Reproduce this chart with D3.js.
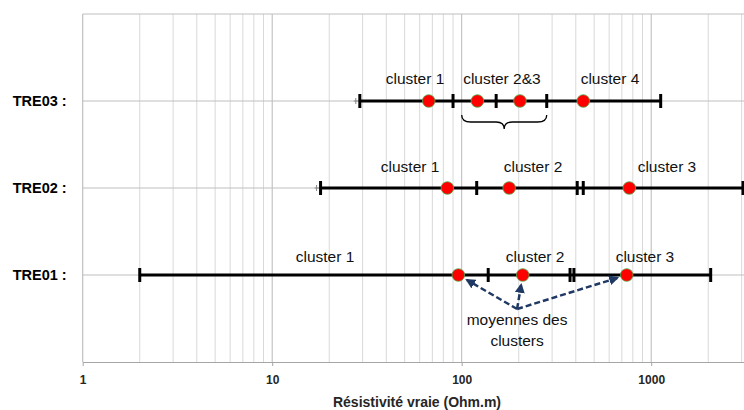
<!DOCTYPE html>
<html>
<head>
<meta charset="utf-8">
<script src="https://cdn.jsdelivr.net/npm/d3@7"></script>
<style>
  html, body { margin: 0; padding: 0; background: #fff; }
  svg { display: block; }
  text { font-family: "Liberation Sans", Arial, sans-serif; }
</style>
</head>
<body>
<svg id="chart" width="744" height="410"></svg>
<script>
// ---------- DATA ----------
const rows = ["TRE01 :", "TRE02 :", "TRE03 :"];
const rowIndex = [1, 2, 3];
// cluster ranges (Ohm.m) per row: [start, end]
const tre01Ranges = [[2, 138], [138, 373], [391, 2060]];
const tre02Ranges = [[18, 120], [120, 407], [438, 3050]];
const tre03Ranges = [[29, 90], [90, 152], [152, 281], [281, 1122]];
// cluster means
const tre01Means = [96, 210, 743];
const tre02Means = [84, 178, 766];
const tre03Means = [67, 121, 203, 438];
// cluster labels and their centre values
const tre01Labels = ["cluster 1", "cluster 2", "cluster 3"];
const tre01LabelAt = [19, 244, 927];
const tre02Labels = ["cluster 1", "cluster 2", "cluster 3"];
const tre02LabelAt = [53.4, 238, 1211];
const tre03Labels = ["cluster 1", "cluster 2&3", "cluster 4"];
const tre03LabelAt = [56.7, 163, 606];
// brace over clusters 2&3 of TRE03
const braceRange = [100, 281];
// annotation
const annotationText = ["moyennes des", "clusters"];
const annotationAt = 196;
// axis
const xTicks = [1, 10, 100, 1000];
const xTitle = "Résistivité vraie (Ohm.m)";

const series = [
  { row: 1, ranges: tre01Ranges, means: tre01Means, labels: tre01Labels, labelAt: tre01LabelAt, dy: -13, startTick: false },
  { row: 2, ranges: tre02Ranges, means: tre02Means, labels: tre02Labels, labelAt: tre02LabelAt, dy: -16, startTick: true },
  { row: 3, ranges: tre03Ranges, means: tre03Means, labels: tre03Labels, labelAt: tre03LabelAt, dy: -17, startTick: true }
];

// ---------- LAYOUT ----------
const pL = 82.7, decade = 189.5, pT = 14, pB = 362;
const svg = d3.select("#chart");
const x = d3.scaleLog().domain([1, 10000]).range([pL, pL + 4 * decade]);
const y = d3.scaleLinear().domain([0, 4]).range([pB, pT]);

// vertical grid
const gridVals = [];
for (let p = 0; p < 4; p++) for (let m = 1; m <= 9; m++) gridVals.push(m * Math.pow(10, p));
svg.append("g").selectAll("line").data(gridVals.filter(v => v > 1)).join("line")
  .attr("x1", d => x(d)).attr("x2", d => x(d))
  .attr("y1", pT).attr("y2", pB)
  .attr("stroke", d => xTicks.includes(d) ? "#b8b8b8" : "#d9d9d9")
  .attr("stroke-width", 1);

// horizontal grid (rows + top border)
svg.append("g").selectAll("line").data([1, 2, 3, 4]).join("line")
  .attr("x1", pL).attr("x2", 744)
  .attr("y1", d => y(d)).attr("y2", d => y(d))
  .attr("stroke", "#bfbfbf").attr("stroke-width", 1.2);

// x axis
const xAxis = svg.append("g").attr("transform", `translate(0,${pB})`)
  .call(d3.axisBottom(x).tickValues(xTicks).tickFormat(d3.format("d")).tickSize(4).tickSizeOuter(0).tickPadding(9));
xAxis.select(".domain").attr("stroke", "#a6a6a6").attr("stroke-width", 1.2);
xAxis.selectAll(".tick line").attr("stroke", "#a6a6a6");
xAxis.selectAll(".tick text").attr("fill", "#262626")
  .style("font-family", "'Liberation Sans', Arial, sans-serif")
  .style("font-size", "12px").style("font-weight", "bold");

// y axis
const yAxis = svg.append("g").attr("transform", `translate(${pL},0)`)
  .call(d3.axisLeft(y).tickValues(rowIndex).tickFormat((d, i) => rows[i]).tickSize(0).tickPadding(16).tickSizeOuter(0));
yAxis.select(".domain").attr("stroke", "#bfbfbf").attr("stroke-width", 1.2)
  .attr("d", `M0,${pT}V${pB}`);
yAxis.selectAll(".tick text").attr("fill", "#000")
  .style("font-family", "'Liberation Sans', Arial, sans-serif")
  .style("font-size", "14.5px").style("font-weight", "bold");

// axis title
svg.append("text").attr("x", 417).attr("y", 406.5).attr("text-anchor", "middle")
  .style("font-size", "14px").style("font-weight", "bold").attr("fill", "#262626")
  .text(xTitle);

// series
series.forEach(s => {
  const g = svg.append("g");
  const yy = y(s.row);
  const lo = d3.min(s.ranges, r => r[0]), hi = d3.max(s.ranges, r => r[1]);
  if (s.startTick) {
    g.append("line").attr("x1", x(lo) - 4).attr("x2", x(lo) - 4)
      .attr("y1", yy - 3).attr("y2", yy + 3).attr("stroke", "#888").attr("stroke-width", 1);
    g.append("line").attr("x1", x(lo) - 6).attr("x2", x(lo))
      .attr("y1", yy).attr("y2", yy).attr("stroke", "#888").attr("stroke-width", 1);
  }
  g.append("line").attr("x1", x(lo)).attr("x2", x(hi)).attr("y1", yy).attr("y2", yy)
    .attr("stroke", "#000").attr("stroke-width", 3);
  const tickVals = Array.from(new Set(s.ranges.flat()));
  g.selectAll("line.tk").data(tickVals).join("line").attr("class", "tk")
    .attr("x1", d => x(d)).attr("x2", d => x(d))
    .attr("y1", yy - 7).attr("y2", yy + 7)
    .attr("stroke", "#000").attr("stroke-width", 3);
  g.selectAll("circle").data(s.means).join("circle")
    .attr("cx", d => x(d)).attr("cy", yy).attr("r", 6.3)
    .attr("fill", "#ff0000").attr("stroke", "#4caf50").attr("stroke-width", 0.8);
  g.selectAll("text").data(s.labels).join("text")
    .attr("x", (d, i) => x(s.labelAt[i])).attr("y", yy + s.dy)
    .attr("text-anchor", "middle").style("font-size", "15.5px").attr("fill", "#111")
    .text(d => d);
});

// brace
{
  const xa = x(braceRange[0]), xb = x(braceRange[1]), xm = (xa + xb) / 2;
  const y0 = y(3) + 14, h = 7;
  const p = `M${xa},${y0} Q${xa},${y0 + h} ${xa + 9},${y0 + h} L${xm - 8},${y0 + h} Q${xm},${y0 + h} ${xm},${y0 + 2 * h} Q${xm},${y0 + h} ${xm + 8},${y0 + h} L${xb - 9},${y0 + h} Q${xb},${y0 + h} ${xb},${y0}`;
  svg.append("path").attr("d", p).attr("fill", "none").attr("stroke", "#000").attr("stroke-width", 1.3);
}

// annotation
const navy = "#1f3864";
svg.append("defs").append("marker").attr("id", "ah")
  .attr("viewBox", "0 0 10 10").attr("refX", 8).attr("refY", 5)
  .attr("markerWidth", 4).attr("markerHeight", 4).attr("orient", "auto")
  .append("path").attr("d", "M0,0L10,5L0,10z").attr("fill", navy);
const ox = x(annotationAt), oy = y(1) + 34;
const ann = svg.append("text").attr("text-anchor", "middle").style("font-size", "15.5px").attr("fill", "#111");
annotationText.forEach((t, i) => ann.append("tspan").attr("x", ox).attr("y", oy + 16 + i * 21).text(t));
svg.append("g").selectAll("line").data(tre01Means).join("line")
  .each(function (d) {
    const cx = x(d), cy = y(1);
    const dx = ox - cx, dy = oy - cy, L = Math.hypot(dx, dy);
    d3.select(this).attr("x1", ox).attr("y1", oy)
      .attr("x2", cx + dx / L * 10).attr("y2", cy + dy / L * 10);
  })
  .attr("stroke", navy).attr("stroke-width", 2.5).attr("stroke-dasharray", "6,3")
  .attr("marker-end", "url(#ah)");
</script>
</body>
</html>
